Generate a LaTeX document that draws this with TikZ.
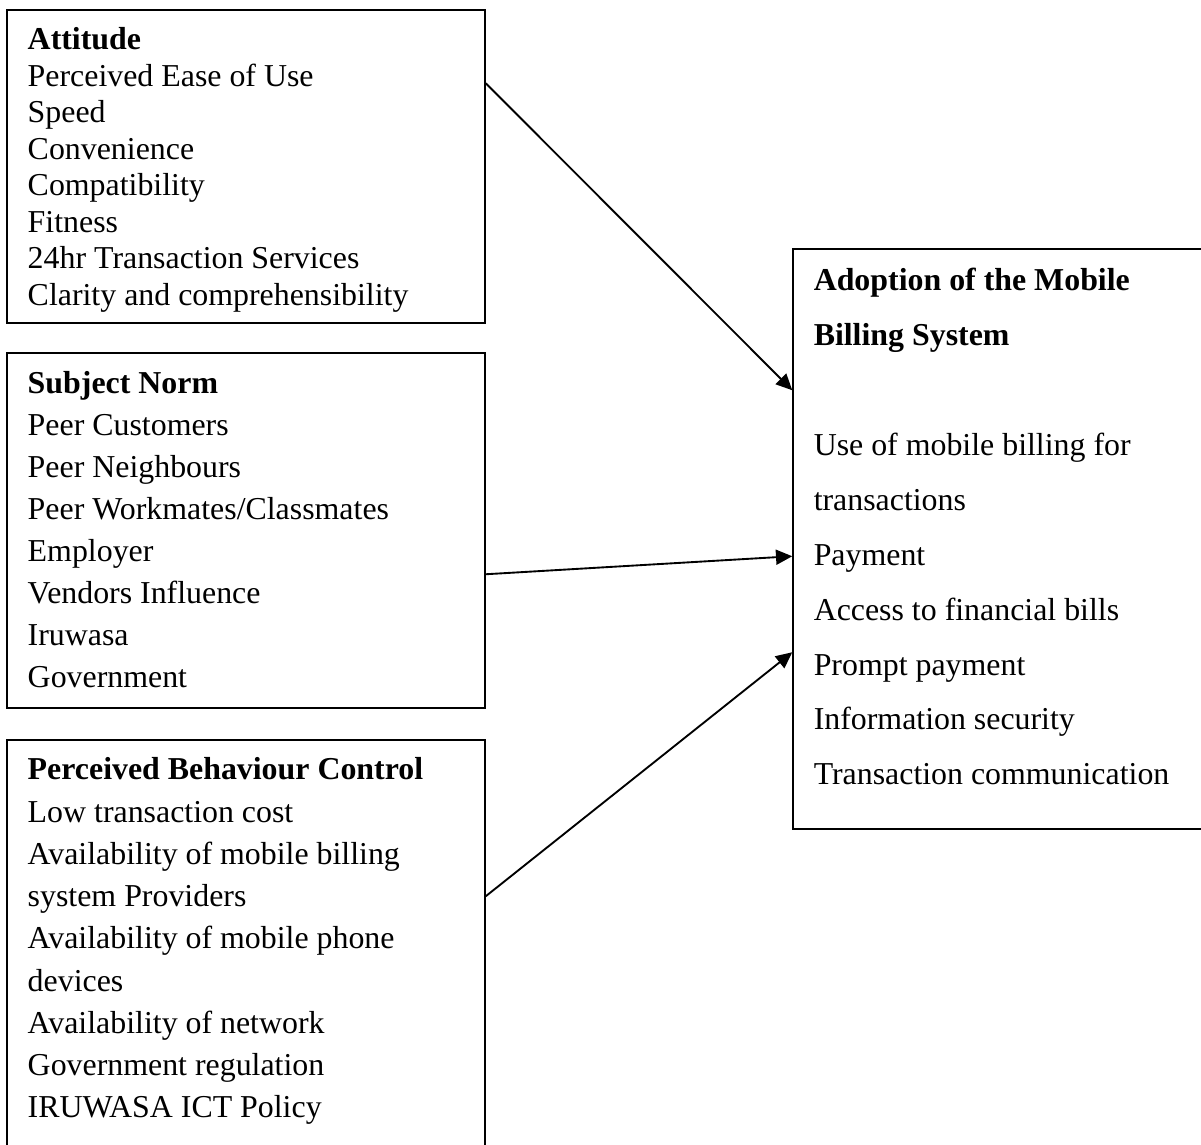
\documentclass[tikz,border=0pt]{standalone}
\usepackage{fontspec}
\setmainfont{Liberation Serif}
\usepackage{tikz}
\usetikzlibrary{positioning,arrows.meta}

\begin{document}
\begin{tikzpicture}[x=0.4pt, y=-0.4pt,
    frame/.style={draw, line width=0.6pt, inner sep=0pt},
    itemlist/.style={align=left, inner sep=0pt, font=\fontsize{12.75pt}{#1}\selectfont},
    arr/.style={-{Triangle[length=6.5pt,width=6pt]}, line width=0.75pt}
]
\useasboundingbox (0,0) rectangle (1201,1145);
\clip (0,0) rectangle (1201,1145);
% the four boxes
\node[frame, minimum width=191.2pt, minimum height=125.2pt] (att)   at (246,166.5) {};
\node[frame, minimum width=191.2pt, minimum height=142pt]   (sn)    at (246,530.5) {};
\node[frame, minimum width=191.2pt, minimum height=170pt]   (pbc)   at (246,952.5) {};
\node[frame, minimum width=168.8pt, minimum height=232pt]   (adopt) at (1004,539) {};
% texts
\node[itemlist=14.6pt, below right=6pt and 8.4pt of att.north west] (attlist)
  {\rule{0pt}{10pt}\textbf{Attitude}\\Perceived Ease of Use\\Speed\\Convenience\\Compatibility\\Fitness\\24hr Transaction Services\\Clarity and comprehensibility};
\node[itemlist=16.8pt, below right=6.4pt and 8.4pt of sn.north west] (snlist)
  {\rule{0pt}{10pt}\textbf{Subject Norm}\\Peer Customers\\Peer Neighbours\\Peer Workmates/Classmates\\Employer\\Vendors Influence\\Iruwasa\\Government};
\node[itemlist=16.9pt, below right=6pt and 8.4pt of pbc.north west] (pbclist)
  {\rule{0pt}{10pt}\textbf{Perceived Behaviour Control}\\Low transaction cost\\Availability of mobile billing\\system Providers\\Availability of mobile phone\\devices\\Availability of network\\Government regulation\\IRUWASA ICT Policy};
\node[itemlist=21.96pt, below right=6.8pt and 8.4pt of adopt.north west] (adoptlist)
  {\rule{0pt}{10pt}\textbf{Adoption of the Mobile}\\\textbf{Billing System}\\[21.96pt]Use of mobile billing for\\transactions\\Payment\\Access to financial bills\\Prompt payment\\Information security\\Transaction communication};
% arrows
\draw[arr] ([yshift=-29.6pt]att.north east) -- ([yshift=-56.8pt]adopt.north west);
\draw[arr] ([yshift=-88.8pt]sn.north east) -- ([yshift=-123.2pt]adopt.north west);
\draw[arr] ([yshift=-62.8pt]pbc.north east) -- ([yshift=-161.6pt]adopt.north west);
\end{tikzpicture}
\end{document}
